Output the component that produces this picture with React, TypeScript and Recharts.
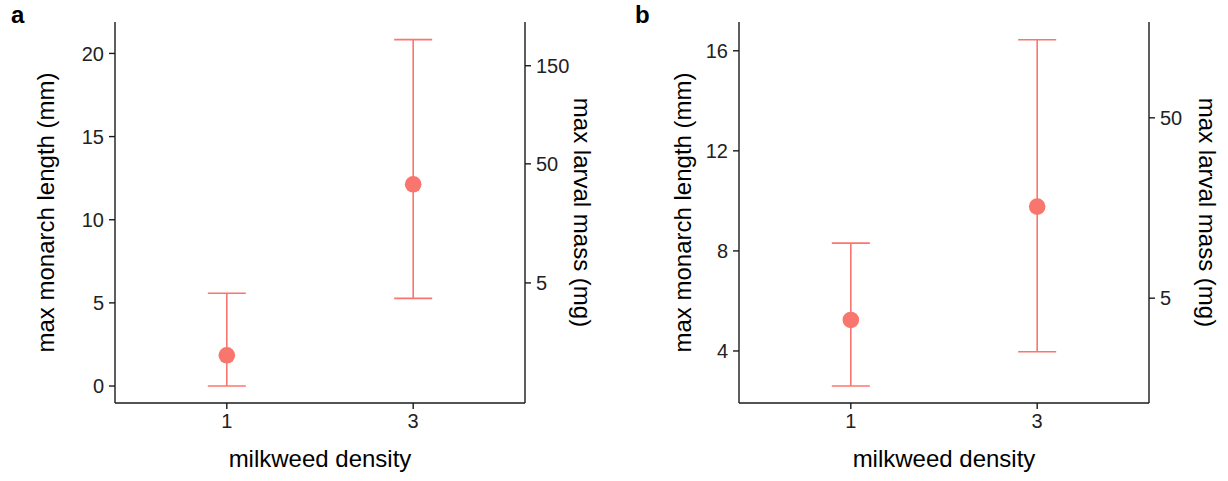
import React from 'react';
import { ScatterChart, Scatter, XAxis, YAxis, ErrorBar } from 'recharts';

// milkweed density treatments (plotted at positions 1 and 2)
const densities = ['1', '3'];
const densityPos = [1, 2];

// panel a: max monarch length (mm), with lower / upper interval bounds
const lengthA = [1.85, 12.13];
const lowA = [0, 5.27];
const highA = [5.58, 20.83];
const lengthTicksA = [0, 5, 10, 15, 20];
const lengthDomainA: [number, number] = [-1.02, 21.89];
// secondary axis: larval mass labels and the length they sit at
const massTicksA = [5, 50, 150];
const massAtLengthA = [6.2, 13.36, 19.26];

// panel b
const lengthB = [5.24, 9.77];
const lowB = [2.6, 3.97];
const highB = [8.31, 16.44];
const lengthTicksB = [4, 8, 12, 16];
const lengthDomainB: [number, number] = [1.92, 17.15];
const massTicksB = [5, 50];
const massAtLengthB = [6.11, 13.32];

const FONT = '"Liberation Sans", Arial, sans-serif';
const RED = '#F8766D';
const AXIS = '#1a1a1a';
const TICK = { fill: '#222222', fontSize: 20, fontFamily: FONT };

const buildRows = (len: number[], low: number[], high: number[]) =>
  densityPos.map((x, i) => ({
    x,
    y: len[i],
    err: [len[i] - low[i], high[i] - len[i]],
  }));

const titleText = (
  text: string,
  cx: number,
  cy: number,
  angle: number
) => (
  <text
    x={cx}
    y={cy}
    transform={`rotate(${angle}, ${cx}, ${cy})`}
    textAnchor="middle"
    dominantBaseline="central"
    fill="#000"
    fontSize={24}
    fontFamily={FONT}
  >
    {text}
  </text>
);

interface PanelProps {
  rows: { x: number; y: number; err: number[] }[];
  lengthTicks: number[];
  domain: [number, number];
  massTicks: number[];
  massAt: number[];
  leftWidth: number;
  rightWidth: number;
  leftTitleX: number;
  rightTitleX: number;
}

const Panel: React.FC<PanelProps> = ({
  rows,
  lengthTicks,
  domain,
  massTicks,
  massAt,
  leftWidth,
  rightWidth,
  leftTitleX,
  rightTitleX,
}) => (
  <ScatterChart
    width={614}
    height={481}
    margin={{ top: 22, right: 0, bottom: 0, left: 0 }}
  >
    <XAxis
      type="number"
      dataKey="x"
      domain={[0.4, 2.6]}
      ticks={densityPos}
      tickFormatter={(v: number) => densities[densityPos.indexOf(v)]}
      height={78}
      axisLine={{ stroke: AXIS, strokeWidth: 1.4 }}
      tickLine={{ stroke: AXIS, strokeWidth: 1.4 }}
      tickSize={6}
      tickMargin={5}
      tick={TICK}
      label={(props: any) => {
        const vb = props.viewBox;
        return titleText('milkweed density', vb.x + vb.width / 2, vb.y + 55, 0);
      }}
    />
    <YAxis
      yAxisId="len"
      type="number"
      dataKey="y"
      domain={domain}
      allowDataOverflow
      ticks={lengthTicks}
      width={leftWidth}
      axisLine={{ stroke: AXIS, strokeWidth: 1.4 }}
      tickLine={{ stroke: AXIS, strokeWidth: 1.4 }}
      tickSize={6}
      tickMargin={5}
      tick={TICK}
      label={(props: any) => {
        const vb = props.viewBox;
        return titleText('max monarch length (mm)', vb.x + leftTitleX, vb.y + vb.height / 2, -90);
      }}
    />
    <YAxis
      yAxisId="mass"
      orientation="right"
      type="number"
      domain={domain}
      allowDataOverflow
      ticks={massAt}
      tickFormatter={(v: number) => String(massTicks[massAt.indexOf(v)])}
      width={rightWidth}
      axisLine={{ stroke: AXIS, strokeWidth: 1.4 }}
      tickLine={{ stroke: AXIS, strokeWidth: 1.4 }}
      tickSize={6}
      tickMargin={5}
      tick={TICK}
      label={(props: any) => {
        const vb = props.viewBox;
        return titleText('max larval mass (mg)', vb.x + rightTitleX, vb.y + vb.height / 2, 90);
      }}
    />
    <Scatter
      yAxisId="len"
      data={rows}
      fill={RED}
      isAnimationActive={false}
      shape={(p: any) => <circle cx={p.cx} cy={p.cy} r={8.3} fill={RED} />}
    >
      <ErrorBar
        dataKey="err"
        direction="y"
        width={19}
        stroke={RED}
        strokeWidth={1.6}
        isAnimationActive={false}
      />
    </Scatter>
  </ScatterChart>
);

const panelLabel = (left: number): React.CSSProperties => ({
  position: 'absolute',
  left,
  top: 3,
  lineHeight: '24px',
  fontFamily: FONT,
  fontWeight: 'bold',
  fontSize: 24,
  color: '#000',
});

export default function App() {
  return (
    <div style={{ position: 'absolute', left: 0, top: 0, width: 1228, height: 481, background: '#fff' }}>
      <div style={{ position: 'absolute', left: 0, top: 0 }}>
        <Panel
          rows={buildRows(lengthA, lowA, highA)}
          lengthTicks={lengthTicksA}
          domain={lengthDomainA}
          massTicks={massTicksA}
          massAt={massAtLengthA}
          leftWidth={115}
          rightWidth={89}
          leftTitleX={45}
          rightTitleX={57}
        />
      </div>
      <div style={{ position: 'absolute', left: 614, top: 0 }}>
        <Panel
          rows={buildRows(lengthB, lowB, highB)}
          lengthTicks={lengthTicksB}
          domain={lengthDomainB}
          massTicks={massTicksB}
          massAt={massAtLengthB}
          leftWidth={125}
          rightWidth={79}
          leftTitleX={68}
          rightTitleX={58}
        />
      </div>
      <div style={panelLabel(11)}>a</div>
      <div style={panelLabel(635)}>b</div>
    </div>
  );
}
